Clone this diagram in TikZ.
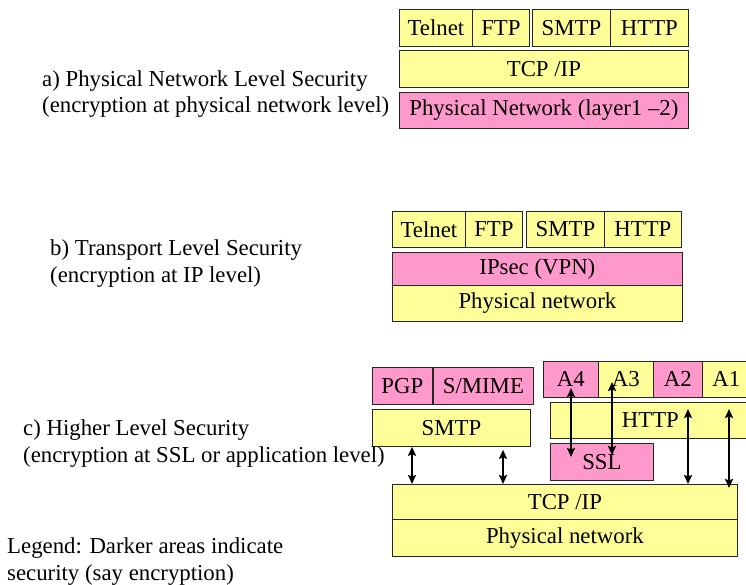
\documentclass[tikz,border=0pt]{standalone}
\usepackage{fontspec}
\setmainfont{Liberation Serif}
\usetikzlibrary{arrows.meta}

\definecolor{secpink}{HTML}{FF99CC}
\definecolor{plainyellow}{HTML}{FFFF99}

\tikzset{
  layer/.style={draw=black!85, line width=0.8pt, inner sep=0pt,
    font=\fontsize{22.8}{26}\selectfont},
  caption/.style={anchor=base west, inner sep=0pt,
    font=\fontsize{22.8}{26}\selectfont},
  dar/.style={{Stealth[length=9pt,width=8pt,inset=1.5pt]}-{Stealth[length=9pt,width=8pt,inset=1.5pt]},
    line width=2pt, black}
}

% \layerbox{name}{x1}{y1}{x2}{y2}{fill}{text}
\newcommand{\layerbox}[7]{%
  \node[layer, fill=#6, minimum width={#4-#2}, minimum height={#5-#3},
        anchor=north west] (#1) at (#2,#3) {#7};}

\begin{document}
\begin{tikzpicture}[x=1pt,y=-1pt]
  \useasboundingbox (0,0) rectangle (746,584);
  \begin{scope}
  \clip (0,0) rectangle (746,584);

  % a) encryption at the physical network
  \layerbox{telnetA}{399}{9}{472}{46}{plainyellow}{Telnet}
  \layerbox{ftpA}{472}{9}{529}{46}{plainyellow}{FTP}
  \layerbox{smtpA}{532}{9}{610}{46}{plainyellow}{SMTP}
  \layerbox{httpA}{610}{9}{688}{46}{plainyellow}{HTTP}
  \layerbox{tcpA}{399}{50}{688}{87}{plainyellow}{TCP /IP}
  \layerbox{physA}{399}{92}{688}{128}{secpink}{Physical Network (layer1 –2)}
  \node[caption] (capA1) at (42,86) {a) Physical Network Level Security};
  \node[caption] (capA2) at (42,112) {(encryption at physical network level)};

  % b) encryption at the IP level
  \layerbox{telnetB}{392}{211}{465}{247}{plainyellow}{Telnet}
  \layerbox{ftpB}{465}{211}{522}{247}{plainyellow}{FTP}
  \layerbox{smtpB}{526}{211}{604}{247}{plainyellow}{SMTP}
  \layerbox{httpB}{604}{211}{681}{247}{plainyellow}{HTTP}
  \layerbox{ipsecB}{392}{252}{682}{285}{secpink}{IPsec (VPN)}
  \layerbox{physB}{392}{285}{682}{321}{plainyellow}{Physical network}
  \node[caption] (capB1) at (50,255) {b) Transport Level Security};
  \node[caption] (capB2) at (50,282) {(encryption at IP level)};

  % c) encryption at SSL or application level
  \layerbox{pgp}{372}{367}{432}{404}{secpink}{PGP}
  \layerbox{smime}{433}{367}{533}{404}{secpink}{S/MIME}
  \layerbox{smtpC}{372}{409}{530}{446}{plainyellow}{SMTP}
  \layerbox{aFour}{543}{361}{598}{397}{secpink}{A4}
  \layerbox{aThree}{598}{361}{653}{397}{plainyellow}{A3}
  \layerbox{aTwo}{653}{361}{702}{397}{secpink}{A2}
  \layerbox{aOne}{702}{361}{750}{397}{plainyellow}{A1}
  \layerbox{httpC}{550}{402}{750}{438}{plainyellow}{HTTP}
  \layerbox{ssl}{550}{443}{653}{480}{secpink}{SSL}
  \layerbox{tcpC}{392}{484}{737}{519}{plainyellow}{TCP /IP}
  \layerbox{physC}{392}{519}{737}{556}{plainyellow}{Physical network}
  \node[caption] (capC1) at (23,435) {c) Higher Level Security};
  \node[caption] (capC2) at (23,462) {(encryption at SSL or application level)};

  % arrow columns and tips inside the boxes
  \coordinate (colA) at (412,0);
  \coordinate (colB) at (503,0);
  \coordinate (colE) at (688,0);
  \coordinate (colF) at (729,0);
  \coordinate (aFourTip) at (571,388);
  \coordinate (sslTipL) at (571,457);
  \coordinate (aThreeTip) at (612,382);
  \coordinate (sslTipR) at (612,455);
  \coordinate (httpTipL) at (688,409);
  \coordinate (httpTipR) at (729,409);
  \coordinate (tcpTipR) at (729,488);

  \draw[dar] (smtpC.south -| colA) -- (tcpC.north -| colA);
  \draw[dar] (smtpC.south -| colB) ++(0,3) -- (tcpC.north -| colB);
  \draw[dar] (aFourTip) -- (sslTipL);
  \draw[dar] (aThreeTip) -- (sslTipR);
  \draw[dar] (httpTipL) -- (tcpC.north -| colE);
  \draw[dar] (httpTipR) -- (tcpTipR);

  % legend
  \node[caption] (legend1) at (7,553) {Legend: Darker areas indicate};
  \node[caption] (legend2) at (7,580) {security (say encryption)};
  \end{scope}
\end{tikzpicture}
\end{document}
